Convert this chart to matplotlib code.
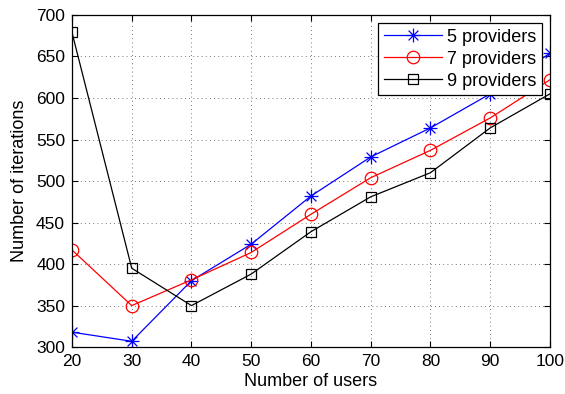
import matplotlib
matplotlib.use('Agg')
import matplotlib.pyplot as plt
from matplotlib.path import Path

plt.rcParams['font.family'] = ['Liberation Sans', 'DejaVu Sans']

users = [20, 30, 40, 50, 60, 70, 80, 90, 100]
iters_5 = [318, 307, 380, 424, 482, 529, 564, 605, 654]
iters_7 = [417, 350, 381, 414, 460, 504, 537, 576, 622]
iters_9 = [679, 395, 350, 388, 439, 481, 510, 564, 605]

# matlab style asterisk: plus + cross
d = 0.7071
star = Path([(-1, 0), (1, 0), (0, -1), (0, 1), (-d, -d), (d, d), (-d, d), (d, -d)],
            [Path.MOVETO, Path.LINETO] * 4)

fig = plt.figure(figsize=(5.65, 3.94), dpi=100)
ax = fig.add_axes([0.1274, 0.119, 0.846, 0.843])

ax.plot(users, iters_5, color='blue', marker=star, markersize=10, lw=0.9,
        markeredgewidth=0.9, label='5 providers')
ax.plot(users, iters_7, color='red', marker='o', markersize=9, lw=0.9,
        markerfacecolor='none', markeredgewidth=0.9, label='7 providers')
ax.plot(users, iters_9, color='black', marker='s', markersize=7.5, lw=0.9,
        markerfacecolor='none', markeredgewidth=0.9, label='9 providers')

ax.set_xlim(20, 100)
ax.set_ylim(300, 700)
ax.set_xticks(range(20, 101, 10))
ax.set_yticks(range(300, 701, 50))
ax.grid(True, linestyle=(0, (1, 4)), color='black', lw=0.6, alpha=0.7)
ax.tick_params(direction='in', top=True, right=True, labelsize=12.5, length=4, pad=5)
for s in ax.spines.values():
    s.set_linewidth(0.9)

ax.set_xlabel('Number of users', fontsize=13, labelpad=3)
ax.set_ylabel('Number of iterations', fontsize=13, labelpad=6)

leg = ax.legend(loc='upper right', fontsize=13, fancybox=False, framealpha=1,
                edgecolor='black', borderaxespad=0.45, handlelength=3.2,
                handletextpad=0.3, labelspacing=0.28, borderpad=0.3)
leg.get_frame().set_linewidth(0.9)

fig.savefig('out.png', dpi=100)
